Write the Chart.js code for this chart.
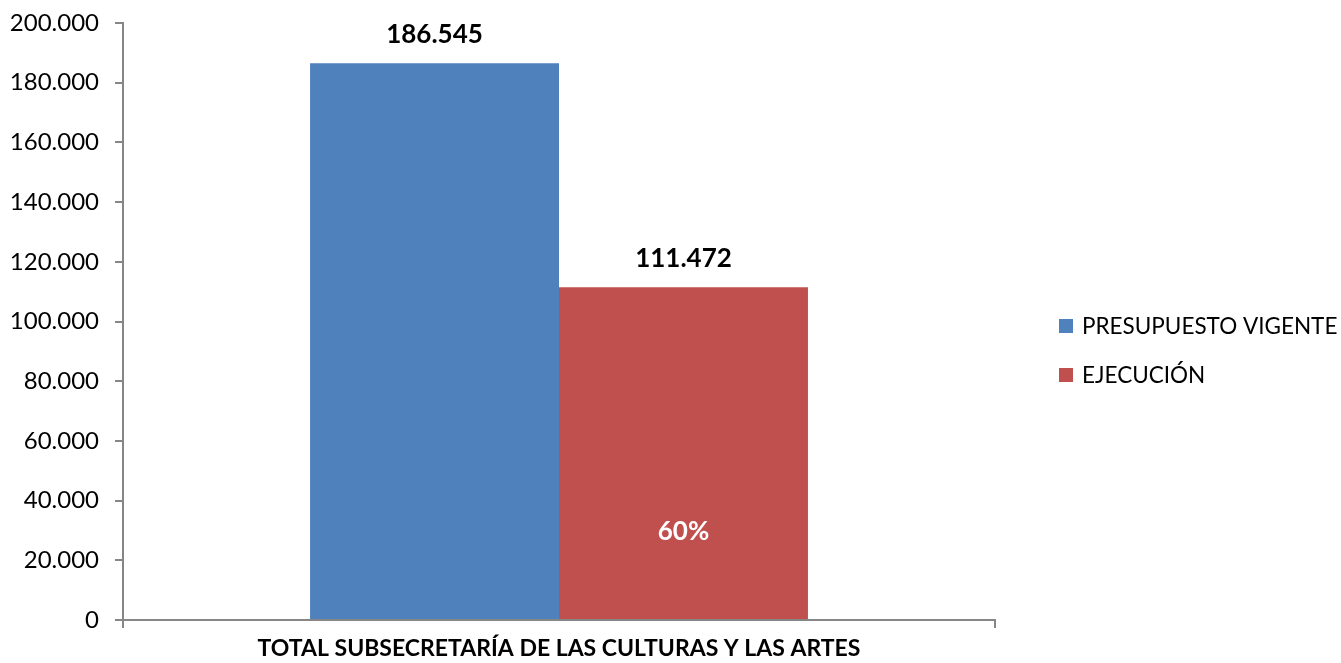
<!DOCTYPE html>
<html>
<head>
<meta charset="utf-8">
<script src="https://cdn.jsdelivr.net/npm/chart.js@4/dist/chart.umd.min.js"></script>
<style>
html,body{margin:0;padding:0;background:#fff;}
#wrap{width:1341px;height:663px;position:relative;}
</style>
</head>
<body>
<div id="wrap"><canvas id="c" width="1341" height="663"></canvas></div>
<script>
const categories = ['TOTAL SUBSECRETARÍA DE LAS CULTURAS Y LAS ARTES'];
const seriesNames = ['PRESUPUESTO VIGENTE', 'EJECUCIÓN'];
const presupuestoVigente = [186545];
const ejecucion = [111472];
const seriesColors = ['#4F81BD', '#C0504D'];
const yMin = 0, yMax = 200000, yStep = 20000;

const FONT = 'Lato, "Open Sans", sans-serif';
function fmt(v){ return String(Math.round(v)).replace(/\B(?=(\d{3})+(?!\d))/g, '.'); }

const labelPlugin = {
  id: 'labels',
  afterDatasetsDraw(chart){
    const ctx = chart.ctx;
    ctx.save();
    ctx.textAlign = 'center';
    chart.data.datasets.forEach((ds, di) => {
      const meta = chart.getDatasetMeta(di);
      meta.data.forEach((bar, i) => {
        ctx.fillStyle = '#000';
        ctx.font = 'bold 26px ' + FONT;
        ctx.textBaseline = 'middle';
        ctx.fillText(fmt(ds.data[i]), bar.x, bar.y - 29);
      });
    });
    // percentage of execution inside red bar
    const m1 = chart.getDatasetMeta(1);
    m1.data.forEach((bar, i) => {
      const pct = Math.round(ejecucion[i] / presupuestoVigente[i] * 100) + '%';
      ctx.fillStyle = '#fff';
      ctx.font = 'bold 26px ' + FONT;
      ctx.textBaseline = 'middle';
      ctx.fillText(pct, bar.x, bar.base - 87);
    });
    // legend
    ctx.textAlign = 'left';
    chart.data.datasets.forEach((ds, di) => {
      const cy = 326 + di * 49;
      ctx.fillStyle = ds.backgroundColor;
      ctx.fillRect(1059, cy - 7, 14, 14);
      ctx.fillStyle = '#000';
      ctx.font = '22.5px ' + FONT;
      ctx.textBaseline = 'middle';
      ctx.fillText(ds.label, 1082, cy + 1);
    });
    ctx.restore();
  }
};

new Chart(document.getElementById('c'), {
  type: 'bar',
  data: {
    labels: categories,
    datasets: [
      { label: seriesNames[0], data: presupuestoVigente, backgroundColor: seriesColors[0] },
      { label: seriesNames[1], data: ejecucion, backgroundColor: seriesColors[1] }
    ]
  },
  options: {
    responsive: false,
    animation: false,
    devicePixelRatio: 1,
    categoryPercentage: 0.571,
    barPercentage: 1,
    layout: { padding: { top: 23, right: 346, bottom: 0, left: 0 } },
    plugins: { legend: { display: false }, tooltip: { enabled: false } },
    scales: {
      x: {
        offset: true,
        grid: { offset: true, drawOnChartArea: false, drawTicks: true, tickLength: 8, color: '#868686', lineWidth: 2 },
        border: { color: '#868686', width: 2 },
        ticks: { color: '#000', font: { family: FONT, size: 23, weight: 'bold' }, padding: 7, maxRotation: 0 },
        afterFit(s){ s.height = 43; s.paddingLeft = 0; s.paddingRight = 0; }
      },
      y: {
        min: yMin, max: yMax,
        grid: { drawOnChartArea: false, drawTicks: true, tickLength: 8, color: '#868686', lineWidth: 2 },
        border: { color: '#868686', width: 2 },
        ticks: { stepSize: yStep, color: '#000', font: { family: FONT, size: 24 }, padding: 16, callback: v => fmt(v) },
        afterFit(s){ s.width = 123; s.paddingTop = 0; s.paddingBottom = 0; }
      }
    }
  },
  plugins: [labelPlugin]
});
</script>
</body>
</html>
